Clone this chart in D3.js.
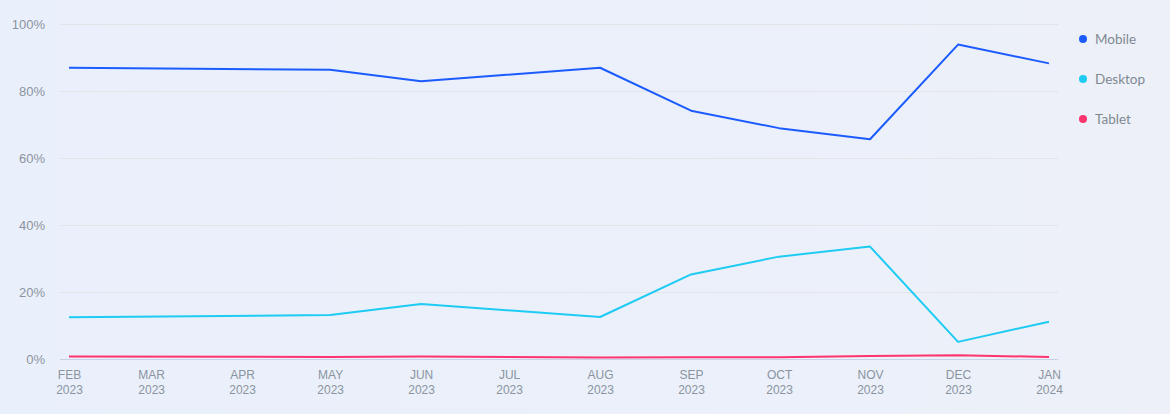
<!DOCTYPE html>
<html>
<head>
<meta charset="utf-8">
<script src="https://cdn.jsdelivr.net/npm/d3@7"></script>
<style>
  html, body { margin: 0; padding: 0; }
  body { width: 1170px; height: 414px; overflow: hidden; }
  svg { display: block; font-family: "Lato", "Open Sans", sans-serif; }
</style>
</head>
<body>
<svg id="chart" width="1170" height="414"></svg>
<script>
// ---- data ----
const dates = ["2023-02-01","2023-05-01","2023-06-01","2023-08-01","2023-09-01","2023-10-01","2023-11-01","2023-12-01","2024-01-01"];
const mobile  = [86.9, 86.3, 82.9, 86.9, 74.1, 68.9, 65.6, 93.8, 88.2];
const desktop = [12.5, 13.2, 16.5, 12.6, 25.3, 30.6, 33.6, 5.2, 11.2];
const tablet  = [0.8, 0.7, 0.8, 0.5, 0.6, 0.6, 1.0, 1.2, 0.7];
const seriesNames = ["Mobile", "Desktop", "Tablet"];
const seriesColors = ["#1c5cff", "#1ecbf3", "#fe346f"];
const yTicks = [0, 20, 40, 60, 80, 100];
const monthLabels = ["FEB","MAR","APR","MAY","JUN","JUL","AUG","SEP","OCT","NOV","DEC","JAN"];

const svg = d3.select("#chart");
const defs = svg.append("defs");
const grad = defs.append("linearGradient").attr("id", "bg").attr("x1", "0").attr("y1", "0").attr("x2", "1").attr("y2", "0");
grad.append("stop").attr("offset", "0").attr("stop-color", "#eaf0fb");
grad.append("stop").attr("offset", "0.7").attr("stop-color", "#ebf0fa");
grad.append("stop").attr("offset", "1").attr("stop-color", "#edf0f7");
svg.append("rect").attr("width", 1170).attr("height", 414).attr("fill", "url(#bg)");

const parse = d3.timeParse("%Y-%m-%d");
const x = d3.scaleTime()
  .domain([parse("2023-02-01"), parse("2024-01-01")])
  .range([69, 1049]);
const y = d3.scaleLinear().domain([0, 100]).range([359.3, 23.8]);

// grid
const gridG = svg.append("g");
gridG.selectAll("line").data(yTicks).enter().append("line")
  .attr("x1", 60).attr("x2", 1058)
  .attr("y1", d => Math.round(y(d)) + 0.5).attr("y2", d => Math.round(y(d)) + 0.5)
  .attr("stroke", d => d === 0 ? "#c8d2e6" : "#e2e4e8")
  .attr("stroke-width", 1);

// y labels
const yAxis = d3.axisLeft(y).tickValues(yTicks).tickFormat(d => d + "%").tickSize(0).tickPadding(0);
const yG = svg.append("g").attr("transform", "translate(45,0)").call(yAxis);
yG.select(".domain").remove();
yG.selectAll("text").attr("fill", "#8a949f").attr("font-size", 13).attr("dy", "0.35em");

// x labels
const months = d3.timeMonth.range(parse("2023-02-01"), parse("2024-01-02"));
const xAxis = d3.axisBottom(x).tickValues(months).tickSize(0).tickFormat(() => "");
const xG = svg.append("g").attr("transform", "translate(0,359)").call(xAxis);
xG.select(".domain").remove();
xG.selectAll(".tick").each(function(d, i) {
  const t = d3.select(this);
  t.select("text").remove();
  t.append("text").attr("y", 20).attr("text-anchor", "middle")
    .attr("fill", "#8a949f").attr("font-size", 12).text(monthLabels[i]);
  t.append("text").attr("y", 35).attr("text-anchor", "middle")
    .attr("fill", "#8a949f").attr("font-size", 12).text(d3.timeFormat("%Y")(d));
});

// lines
const allSeries = [mobile, desktop, tablet];
const line = d3.line().x(d => x(d[0])).y(d => y(d[1]));
// draw tablet first so mobile is on top? order: tablet, desktop, mobile
[2, 1, 0].forEach(si => {
  const pts = dates.map((d, i) => [parse(d), allSeries[si][i]]);
  svg.append("path").datum(pts)
    .attr("d", line)
    .attr("fill", "none")
    .attr("stroke", seriesColors[si])
    .attr("stroke-width", 2)
    .attr("stroke-linejoin", "round");
});

// legend
const lg = svg.append("g");
seriesNames.forEach((n, i) => {
  const cy = 39 + i * 40;
  lg.append("circle").attr("cx", 1083).attr("cy", cy).attr("r", 4).attr("fill", seriesColors[i]);
  lg.append("text").attr("x", 1095).attr("y", cy).attr("dy", "0.35em")
    .attr("fill", "#7f8993").attr("font-size", 13.5).text(n);
});
</script>
</body>
</html>
